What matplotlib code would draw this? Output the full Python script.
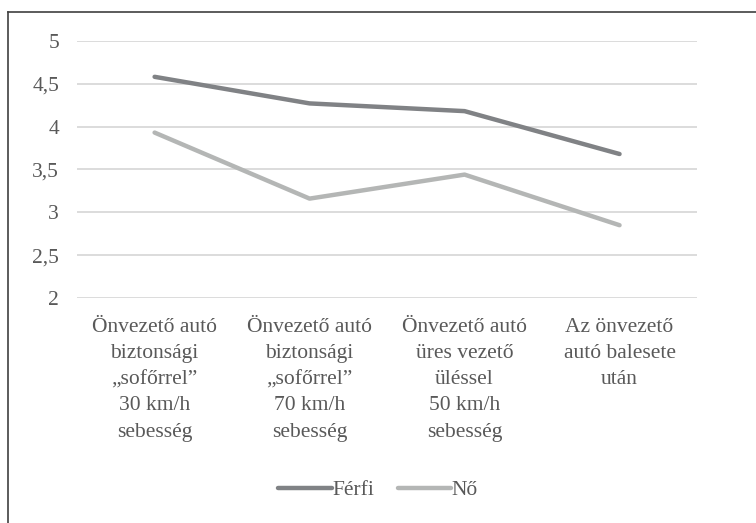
import matplotlib.pyplot as plt
from matplotlib.lines import Line2D

plt.rcParams['font.family'] = ['Liberation Serif', 'DejaVu Serif']

# data
categories = [
    "Önvezető autó\nbiztonsági\n„sofőrrel”\n30 km/h\nsebesség",
    "Önvezető autó\nbiztonsági\n„sofőrrel”\n70 km/h\nsebesség",
    "Önvezető autó\nüres vezető\nüléssel\n50 km/h\nsebesség",
    "Az önvezető\nautó balesete\nután",
]
ferfi = [4.58, 4.27, 4.18, 3.68]
no = [3.93, 3.16, 3.44, 2.85]
yticks = [2, 2.5, 3, 3.5, 4, 4.5, 5]
ytick_labels = ["2", "2,5", "3", "3,5", "4", "4,5", "5"]

txt = '#595959'
fs = 15.5
fig = plt.figure(figsize=(7.56, 5.23), dpi=100)
ax = fig.add_axes([0.102, 0.430, 0.820, 0.492])

x = range(len(categories))
ax.plot(x, ferfi, color='#808285', lw=3.2, solid_capstyle='round', label='Férfi')
ax.plot(x, no, color='#b4b6b5', lw=3.2, solid_capstyle='round', label='Nő')

ax.set_xlim(-0.5, len(categories) - 0.5)
ax.set_ylim(2, 5)
ax.set_yticks(yticks)
ax.set_yticklabels(ytick_labels, color=txt, fontsize=fs)
ax.set_xticks(list(x))
ax.set_xticklabels(categories, color=txt, fontsize=fs, linespacing=1.52, va='top')
ax.tick_params(axis='both', length=0)
ax.tick_params(axis='y', pad=13)
ax.tick_params(axis='x', pad=14)
ax.grid(axis='y', color='#d9d9d9', lw=1.3)
ax.set_axisbelow(True)
for s in ax.spines.values():
    s.set_visible(False)

handles = [Line2D([], [], color='#808285', lw=3.2, solid_capstyle='round'),
           Line2D([], [], color='#b4b6b5', lw=3.2, solid_capstyle='round')]
fig.legend(handles, ['Férfi', 'Nő'], loc='center', bbox_to_anchor=(0.5, 0.063),
           ncol=2, frameon=False, fontsize=fs, labelcolor=txt,
           handlelength=2.5, handletextpad=0.0, columnspacing=1.1)

# chart border (top and left edges only visible)
fig.add_artist(Line2D([0.0106, 1.0], [0.978, 0.978], color='#404040', lw=1.2))
fig.add_artist(Line2D([0.0106, 0.0106], [0.0, 0.978], color='#404040', lw=1.2))

fig.savefig('out.png', dpi=100)
